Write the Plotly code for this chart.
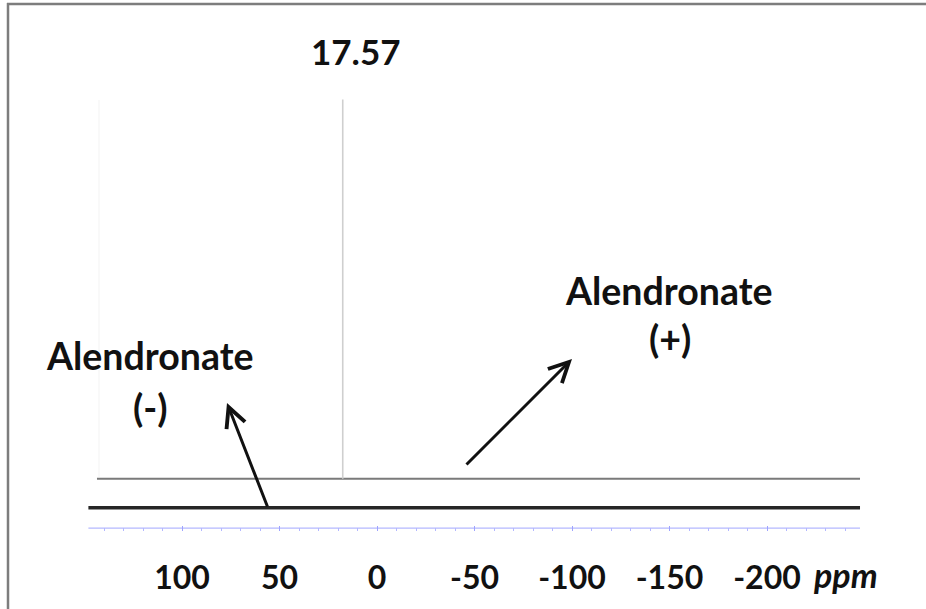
import plotly.graph_objects as go

# ---- data ----
ppm_upper = [143.6, -247.7]          # Alendronate (+) spectrum baseline extent
int_upper = [1.0, 1.0]
peak_ppm = [17.57, 17.57]             # single 31P resonance
peak_int = [1.0, 14.07]
ppm_lower = [148.0, -247.7]           # Alendronate (-) spectrum (flat, no peak)
int_lower = [0.0, 0.0]
ppm_axis = [148.0, -247.7]
int_axis = [-0.7, -0.7]
tick_vals = [100, 50, 0, -50, -100, -150, -200]
tick_text = ["100", "50", "0", "-50", "-100", "-150", "-200"]
minor_vals = list(range(140, -250, -10))
peak_label = "17.57"

OFF = 0
W, H = 926, 609
B = 78
PH = H - B

def px(x):
    return (x - OFF) / W

def py(y):
    return (PH - (y - OFF)) / PH

fig = go.Figure()
fig.add_trace(go.Scatter(x=ppm_axis, y=int_axis, mode="lines",
                         line=dict(color="#b4b8ff", width=1.2), hoverinfo="skip"))
fig.add_trace(go.Scatter(x=ppm_lower, y=int_lower, mode="lines",
                         line=dict(color="#262626", width=3.6), hoverinfo="skip"))
fig.add_trace(go.Scatter(x=ppm_upper, y=int_upper, mode="lines",
                         line=dict(color="#7a7a7a", width=1.8), hoverinfo="skip"))
fig.add_trace(go.Scatter(x=peak_ppm, y=peak_int, mode="lines",
                         line=dict(color="#cfcfcf", width=1.6), hoverinfo="skip"))

font_b = dict(family="Lato", size=37.5, color="#111111", weight="bold")

def label(x, y, text, font):
    return dict(xref="paper", yref="paper", x=px(x), y=py(y), text=text,
                showarrow=False, xanchor="center", yanchor="middle", font=font)

ann = [
    label(356, 51, peak_label, dict(family="Lato", size=35, color="#111111", weight="bold")),
    label(150, 355, "Alendronate", font_b),
    label(150, 407, "(-)", font_b),
    label(669, 291, "Alendronate", font_b),
    label(670, 338, "(+)", font_b),
    label(845, 574, "ppm", dict(family="Lato", size=34, color="#111111",
                                weight="bold", style="italic")),
]

def arrow(tip, tail):
    return dict(xref="paper", yref="paper", x=px(tip[0]), y=py(tip[1]), text="",
                showarrow=True, ax=tail[0] - tip[0], ay=tail[1] - tip[1],
                axref="pixel", ayref="pixel",
                arrowhead=5, arrowsize=1.3, arrowwidth=3, arrowcolor="#111111")

ann.append(arrow((227, 403), (268, 508)))
ann.append(arrow((572, 359), (465, 466)))

shapes = [
    dict(type="line", xref="paper", yref="paper", x0=px(7), x1=px(930), y0=py(4), y1=py(4),
         line=dict(color="#7d7d7d", width=2.5)),
    dict(type="line", xref="paper", yref="paper", x0=px(8), x1=px(8), y0=py(3), y1=py(612),
         line=dict(color="#7d7d7d", width=2.5)),
    dict(type="line", xref="paper", yref="paper", x0=px(99), x1=px(99), y0=py(100), y1=py(477),
         line=dict(color="#f3f3f3", width=1), layer="below"),
]

x_left = (377 - OFF) / 1.95
x_right = (377 - 926) / 1.95

fig.update_layout(
    width=W, height=H,
    margin=dict(l=0, r=0, t=0, b=B),
    paper_bgcolor="white", plot_bgcolor="white",
    showlegend=False,
    annotations=ann, shapes=shapes,
    xaxis=dict(range=[x_left, x_right], showgrid=False, zeroline=False, showline=False,
               tickmode="array", tickvals=tick_vals, ticktext=tick_text,
               ticks="inside", ticklen=5, tickwidth=1, tickcolor="#9ea4ff",
               ticklabelstandoff=25,
               tickfont=dict(family="Lato", size=32, color="#111111", weight="bold"),
               minor=dict(tickmode="array", tickvals=minor_vals, ticks="inside",
                          ticklen=3, tickwidth=1, tickcolor="#b4b8ff")),
    yaxis=dict(range=[-0.8, 17.5], visible=False, showgrid=False, zeroline=False),
)

fig.write_html("out.html", config={"displayModeBar": False},
               post_script="document.body.style.margin='0';document.body.style.overflow='hidden';")
